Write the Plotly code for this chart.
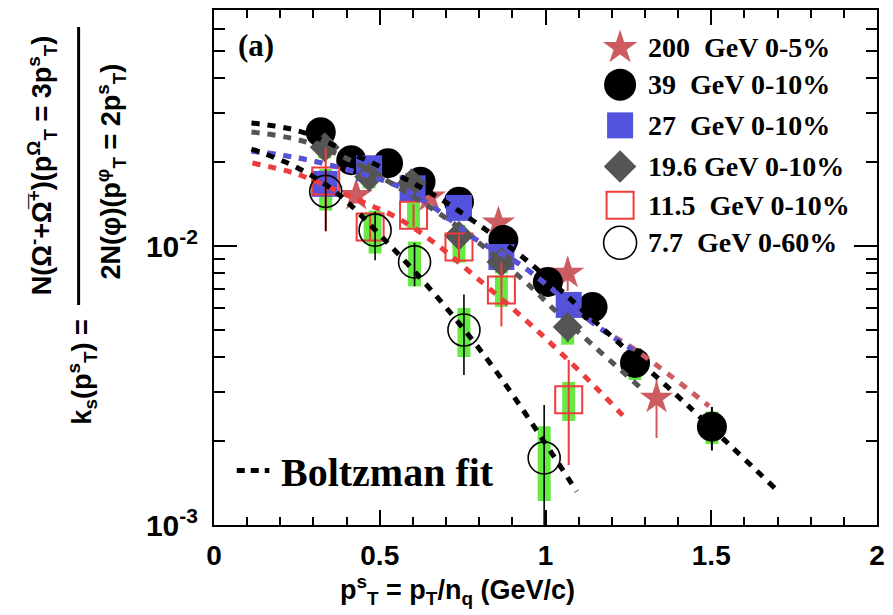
import plotly.graph_objects as go

# ---------------- data ----------------
x200 = [0.429, 0.650, 0.858, 1.067, 1.335]
y200 = [0.0152, 0.0150, 0.0121, 0.0080, 0.00285]
e200_p = [0.0010, 0.0010, 0.0008, 0.0011, 0.00046]
e200_m = [0.0010, 0.0010, 0.0008, 0.0011, 0.0008]

x39 = [0.322, 0.414, 0.525, 0.623, 0.739, 0.873, 1.007, 1.142, 1.270, 1.502]
y39 = [0.0256, 0.0203, 0.0198, 0.0170, 0.0144, 0.0105, 0.00743, 0.00604, 0.00381, 0.00225]
e39 = [0.0008, 0.0007, 0.0007, 0.0006, 0.0005, 0.0004, 0.0003, 0.0003, 0.0002, 0.0004]
s39 = [0.0020, 0.0016, 0.0016, 0.0013, 0.0012, 0.0009, 0.0007, 0.0006, 0.0005, 0.0003]

x27 = [0.334, 0.468, 0.599, 0.739, 0.867, 1.070]
y27 = [0.0167, 0.0190, 0.0161, 0.0137, 0.00913, 0.00615]
e27 = [0.0006, 0.0006, 0.0006, 0.0005, 0.0005, 0.0004]
s27 = [0.0015, 0.0015, 0.0013, 0.0010, 0.0008, 0.0005]

x19 = [0.334, 0.468, 0.596, 0.739, 0.867, 1.067]
y19 = [0.0226, 0.0177, 0.0168, 0.0109, 0.00877, 0.00513]
e19 = [0.0008, 0.0007, 0.0007, 0.0006, 0.0005, 0.0006]
s19 = [0.0020, 0.0016, 0.0015, 0.0010, 0.0008, 0.0007]

x11 = [0.337, 0.471, 0.602, 0.739, 0.867, 1.070]
y11 = [0.0171, 0.0117, 0.0129, 0.00992, 0.00695, 0.00281]
e11_p = [0.0054, 0.0012, 0.0012, 0.0010, 0.0018, 0.0011]
e11_m = [0.0058, 0.0012, 0.0012, 0.0010, 0.0018, 0.00117]
s11 = [0.0018, 0.0015, 0.0014, 0.0012, 0.0009, 0.00045]

x77 = [0.337, 0.486, 0.605, 0.754, 0.996]
y77 = [0.0157, 0.0114, 0.00877, 0.0050, 0.00174]
e77_p = [0.0031, 0.0019, 0.0015, 0.0017, 0.00095]
e77_m = [0.0044, 0.0025, 0.0016, 0.00155, 0.00074]
s77 = [0.0023, 0.0020, 0.0016, 0.0010, 0.00052]

# Boltzmann fit curves
fx200 = [0.113, 0.256, 0.405, 0.554, 0.674, 0.793, 0.912, 1.031, 1.159, 1.264, 1.374, 1.493]
fy200 = [0.02190, 0.02067, 0.01873, 0.01641, 0.01346, 0.01051, 0.00876, 0.00684, 0.00513,
         0.00430, 0.00345, 0.00267]
fx39 = [0.113, 0.256, 0.405, 0.554, 0.674, 0.787, 0.942, 1.151, 1.428, 1.696]
fy39 = [0.02760, 0.02583, 0.02173, 0.01797, 0.01498, 0.01219, 0.00891, 0.00534, 0.00269, 0.00134]
fx27 = [0.113, 0.256, 0.405, 0.554, 0.674, 0.793, 0.912, 1.031, 1.159, 1.264]
fy27 = [0.02190, 0.02067, 0.01873, 0.01641, 0.01346, 0.01051, 0.00876, 0.00684, 0.00513, 0.00424]
fx19 = [0.113, 0.256, 0.385, 0.554, 0.733, 0.933, 1.037, 1.142, 1.285]
fy19 = [0.02563, 0.02399, 0.02102, 0.01627, 0.01179, 0.00755, 0.00575, 0.00442, 0.00312]
fx11 = [0.116, 0.250, 0.420, 0.554, 0.674, 0.793, 0.933, 1.037, 1.151, 1.246]
fy11 = [0.01984, 0.01811, 0.01486, 0.01260, 0.01008, 0.00768, 0.00552, 0.00424, 0.00312, 0.00238]
fx77 = [0.113, 0.247, 0.367, 0.501, 0.668, 0.844, 1.094]
fy77 = [0.02227, 0.01920, 0.01562, 0.01095, 0.00667, 0.00365, 0.00132]

legend_labels = ["200  GeV 0-5%", "39  GeV 0-10%", "27  GeV 0-10%",
                 "19.6 GeV 0-10%", "11.5  GeV 0-10%", "7.7  GeV 0-60%"]
x_tickvals = [0, 0.5, 1, 1.5, 2]
x_ticktext = ["0", "0.5", "1", "1.5", "2"]
y_tickvals = [0.001, 0.01]
y_ticktext = ["10<sup>-3</sup>", "10<sup>-2</sup>"]
y_minor = [0.002, 0.003, 0.004, 0.005, 0.006, 0.007, 0.008, 0.009,
           0.02, 0.03, 0.04, 0.05, 0.06, 0.07]

# ---------------- styles ----------------
PINK = "#cd5c60"
BLUE = "#5252dc"
GREY = "#555555"
RED = "#ee3b3b"
GREEN = "#66ea44"
SANS = "Liberation Sans"
SERIF = "Liberation Serif"

fig = go.Figure()

# systematic boxes (green)
for xs, ys, ss in [(x39, y39, s39), (x27, y27, s27), (x19, y19, s19),
                   (x11, y11, s11), (x77, y77, s77)]:
    fig.add_trace(go.Scatter(
        x=xs, y=ys, mode="markers", marker=dict(size=1, color="rgba(0,0,0,0)"),
        error_y=dict(type="data", array=ss, symmetric=True, color=GREEN,
                     thickness=13, width=0),
        hoverinfo="skip", showlegend=False))

# data points
fig.add_trace(go.Scatter(
    x=x200, y=y200, mode="markers",
    marker=dict(symbol="star", size=25, color=PINK, line=dict(width=0)),
    error_y=dict(type="data", array=e200_p, arrayminus=e200_m, color=PINK,
                 thickness=2, width=0), showlegend=False))
fig.add_trace(go.Scatter(
    x=x39, y=y39, mode="markers",
    marker=dict(symbol="circle", size=30, color="black", line=dict(width=0)),
    error_y=dict(type="data", array=e39, color="black", thickness=2, width=0),
    showlegend=False))
fig.add_trace(go.Scatter(
    x=x27, y=y27, mode="markers",
    marker=dict(symbol="square", size=26, color=BLUE, line=dict(width=0)),
    error_y=dict(type="data", array=e27, color=BLUE, thickness=2, width=0),
    showlegend=False))
fig.add_trace(go.Scatter(
    x=x19, y=y19, mode="markers",
    marker=dict(symbol="diamond", size=23, color=GREY, line=dict(width=0)),
    error_y=dict(type="data", array=e19, color=GREY, thickness=2, width=0),
    showlegend=False))
fig.add_trace(go.Scatter(
    x=x11, y=y11, mode="markers",
    marker=dict(symbol="square-open", size=27, color=RED, line=dict(width=2, color=RED)),
    error_y=dict(type="data", array=e11_p, arrayminus=e11_m, color=RED,
                 thickness=2, width=0), showlegend=False))
fig.add_trace(go.Scatter(
    x=x77, y=y77, mode="markers",
    marker=dict(symbol="circle-open", size=32, color="black", line=dict(width=1.6, color="black")),
    error_y=dict(type="data", array=e77_p, arrayminus=e77_m, color="black",
                 thickness=1.6, width=0), showlegend=False))

# fit curves (dashed, drawn on top)
DASH = "8px,8px"
for fx, fy, col in [(fx200, fy200, PINK), (fx27, fy27, BLUE), (fx19, fy19, GREY),
                    (fx11, fy11, RED), (fx39, fy39, "black"), (fx77, fy77, "black")]:
    fig.add_trace(go.Scatter(
        x=fx, y=fy, mode="lines", line=dict(color=col, width=5, dash=DASH, shape="spline"),
        hoverinfo="skip", showlegend=False))

# ---------------- custom legend on an overlay axis ----------------
leg_x = 0.6125
leg_y = [0.927, 0.855, 0.776, 0.696, 0.621, 0.548]
leg_markers = [
    dict(symbol="star", size=26, color=PINK),
    dict(symbol="circle", size=32, color="black"),
    dict(symbol="square", size=26, color=BLUE),
    dict(symbol="diamond", size=25, color=GREY),
    dict(symbol="square-open", size=27, color=RED, line=dict(width=2, color=RED)),
    dict(symbol="circle-open", size=33, color="black", line=dict(width=1.6, color="black")),
]
for yy, mk in zip(leg_y, leg_markers):
    fig.add_trace(go.Scatter(x=[leg_x], y=[yy], xaxis="x2", yaxis="y2", mode="markers",
                             marker=mk, showlegend=False, hoverinfo="skip"))

annotations = []
for yy, lab in zip(leg_y, legend_labels):
    annotations.append(dict(xref="paper", yref="paper", x=0.651, y=yy, text=lab,
                            showarrow=False, xanchor="left", yanchor="middle",
                            font=dict(family=SERIF, size=28, color="black", weight="bold")))
annotations += [
    dict(xref="paper", yref="paper", x=0.064, y=0.932, text="(a)", showarrow=False,
         xanchor="center", yanchor="middle",
         font=dict(family=SERIF, size=31, color="black", weight="bold")),
    dict(xref="paper", yref="paper", x=0.098, y=0.102, text="Boltzman fit", showarrow=False,
         xanchor="left", yanchor="middle",
         font=dict(family=SERIF, size=40, color="black", weight="bold")),
    dict(xref="paper", yref="paper", x=0.3666, y=-0.126,
         text="p<sup>s</sup><sub>T</sub> = p<sub>T</sub>/n<sub>q</sub> (GeV/c)", showarrow=False,
         xanchor="center", yanchor="middle",
         font=dict(family=SANS, size=27, color="black", weight="bold")),
    dict(xref="paper", yref="paper", x=-0.2593, y=0.697, textangle=-90,
         text="N(Ω<sup>-</sup>+Ω\u0305<sup>+</sup>)(p<sup>Ω</sup><sub>T</sub> = 3p<sup>s</sup><sub>T</sub>)",
         showarrow=False, xanchor="center", yanchor="middle",
         font=dict(family=SANS, size=27, color="black", weight="bold")),
    dict(xref="paper", yref="paper", x=-0.155, y=0.687, textangle=-90,
         text="2N(φ)(p<sup>φ</sup><sub>T</sub> = 2p<sup>s</sup><sub>T</sub>)",
         showarrow=False, xanchor="center", yanchor="middle",
         font=dict(family=SANS, size=27, color="black", weight="bold")),
    dict(xref="paper", yref="paper", x=-0.1997, y=0.297, textangle=-90,
         text="k<sub>s</sub>(p<sup>s</sup><sub>T</sub>) =",
         showarrow=False, xanchor="center", yanchor="middle",
         font=dict(family=SANS, size=27, color="black", weight="bold")),
]

shapes = [
    dict(type="line", xref="paper", yref="paper", x0=-0.2042, x1=-0.2042, y0=0.4272, y1=0.967,
         line=dict(color="black", width=3)),
    dict(type="line", xref="paper", yref="paper", x0=0.0343, x1=0.0835, y0=0.106, y1=0.106,
         line=dict(color="black", width=5, dash="8px,6px")),
]

fig.update_layout(
    width=893, height=615,
    margin=dict(l=214, r=8, t=10, b=90),
    paper_bgcolor="white", plot_bgcolor="white",
    showlegend=False,
    annotations=annotations, shapes=shapes,
    xaxis=dict(range=[0, 2], tickvals=x_tickvals, ticktext=x_ticktext,
               ticks="inside", ticklen=15, tickwidth=2, tickcolor="black",
               showline=True, linewidth=2, linecolor="black", mirror="allticks",
               showgrid=False, zeroline=False, ticklabelstandoff=4,
               tickfont=dict(family=SANS, size=28, color="black", weight="bold"),
               minor=dict(dtick=0.1, ticks="inside", ticklen=8, tickwidth=2,
                          tickcolor="black", showgrid=False)),
    yaxis=dict(type="log", range=[-3, -1.154], tickvals=y_tickvals, ticktext=y_ticktext,
               ticks="inside", ticklen=23, tickwidth=2, tickcolor="black",
               showline=True, linewidth=2, linecolor="black", mirror="allticks",
               showgrid=False, zeroline=False, ticklabelstandoff=8,
               tickfont=dict(family=SANS, size=30, color="black", weight="bold"),
               minor=dict(tickvals=y_minor, ticks="inside", ticklen=11, tickwidth=2,
                          tickcolor="black", showgrid=False)),
    xaxis2=dict(range=[0, 1], overlaying="x", visible=False, fixedrange=True),
    yaxis2=dict(range=[0, 1], overlaying="y", visible=False, fixedrange=True),
)

fig.write_html("out.html")
